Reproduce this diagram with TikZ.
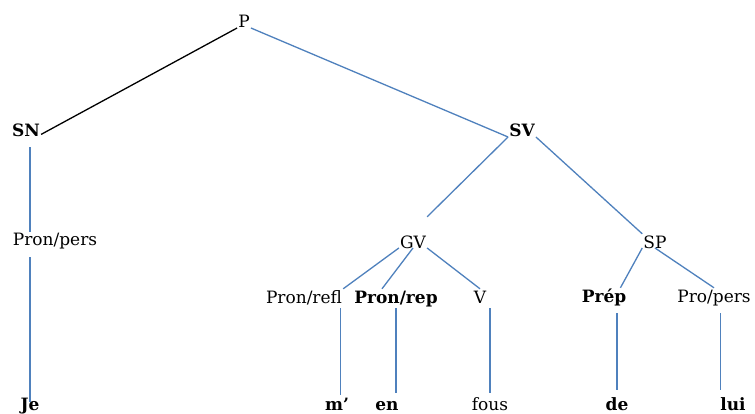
\documentclass[tikz,border=0pt]{standalone}
\usepackage{fontspec}
\setmainfont{DejaVu Serif}
\definecolor{lineblue}{HTML}{4F81BD}
\begin{document}
\begin{tikzpicture}[x=1pt,y=-1pt,
  lbl/.style={anchor=base,inner sep=1pt,text height=13pt,text depth=4pt,font=\fontsize{17}{20}\selectfont},
  bl/.style={lbl,font=\fontsize{17}{20}\selectfont\bfseries},
  edge/.style={draw=lineblue,line width=1.3pt},
  blackedge/.style={draw=black,line width=1.3pt}]
\useasboundingbox[fill=white] (0,0) rectangle (755,414);
% nodes
\node[lbl] (P) at (244,28) {P};
\node[bl] (SN) at (26,137) {SN};
\node[bl] (SV) at (522,137) {SV};
\node[lbl] (PP) at (55,246) {Pron/pers};
\node[lbl] (GV) at (413,248) {GV};
\node[lbl] (SP) at (655,248) {SP};
\node[lbl] (PRefl) at (304,303) {Pron/refl};
\node[bl] (PRep) at (396,303) {Pron/rep};
\node[lbl] (V) at (480,303) {V};
\node[bl] (Prp) at (604,302) {Prép};
\node[lbl] (PP2) at (714,302) {Pro/pers};
\node[bl] (Je) at (30,410) {Je};
\node[bl] (m) at (337,410) {m'};
\node[bl] (en) at (387,410) {en};
\node[lbl] (fous) at (490,410) {fous};
\node[bl] (de) at (617,410) {de};
\node[bl] (lui) at (733,410) {lui};
% connectors
\draw[blackedge] (P.base west) -- (SN.mid east);
\draw[edge] (P.base east) -- (SV.base west);
\draw[edge] (SV.base west) -- ([yshift=17pt]GV.north east);
\draw[edge] (SV.base east) -- (SP.north west);
\draw[edge] (GV.base west) -- (PRefl.north east);
\draw[edge] (GV.base) -- ([xshift=-14pt]PRep.north);
\draw[edge] (GV.base east) -- (V.north);
\draw[edge] (SP.base west) -- ([xshift=-7pt]Prp.north east);
\draw[edge] (SP.base) -- (PP2.north);
% vertical connectors
\draw[edge,shorten <=5pt] (SN.south -| Je.north) -- (PP.north -| Je.north);
\draw[edge,shorten <=6pt,shorten >=-6pt] (PP.south -| Je.north) -- (Je.north);
\draw[edge,shorten >=1pt] ([xshift=-3pt]PRefl.south east) -- ([xshift=-3pt]PRefl.south east |- m.north);
\draw[edge,shorten >=3pt] (PRep.south) -- (PRep.south |- en.north);
\draw[edge,shorten >=3pt] (V.south -| fous.north) -- (fous.north);
\draw[edge,shorten <=6pt,shorten >=6pt] (Prp.south -| de.north) -- (de.north);
\draw[edge,shorten <=6pt,shorten >=6pt] ([xshift=1pt]PP2.south -| lui.north west) -- ([xshift=1pt]lui.north west);
\end{tikzpicture}
\end{document}
